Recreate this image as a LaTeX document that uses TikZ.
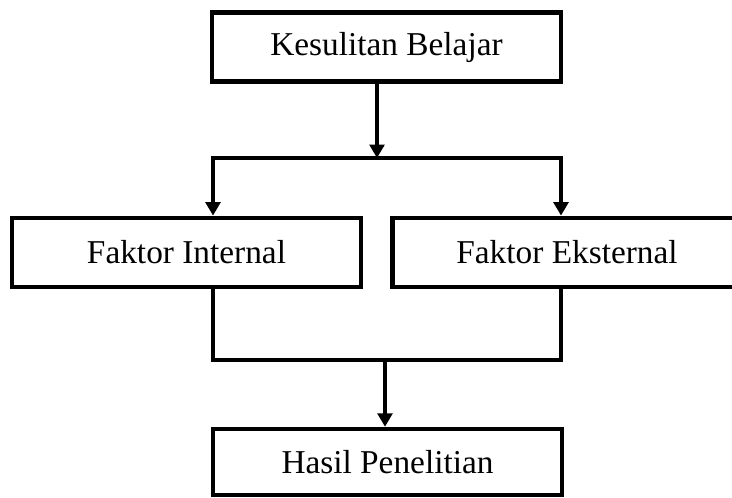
\documentclass[tikz,border=0pt]{standalone}
\usepackage{fontspec}
\setmainfont{Liberation Serif}
\usetikzlibrary{arrows.meta}
\tikzset{
    kotak/.style={draw, line width=3.4pt, minimum width=262pt, minimum height=52pt, inner sep=0pt, font=\fontsize{25}{30}\selectfont},
    garis/.style={line width=3.4pt},
    panah/.style={garis, -{Triangle[length=10pt,width=11pt]}},
    panahdua/.style={garis, {Triangle[length=10pt,width=11pt]}-{Triangle[length=10pt,width=11pt]}}
}
\begin{document}
\begin{tikzpicture}[x=0.75pt,y=-0.75pt]
        \clip (0,0) rectangle (732,498);
        \node[kotak] (kesulitan) at (386.5,47) {Kesulitan Belajar};
        \node[kotak] (internal) at (186.5,252.5) {Faktor Internal};
        \node[kotak] (eksternal) at (567,252.5) {Faktor Eksternal};
        \node[kotak, minimum height=49.5pt] (hasil) at (387.5,462) {Hasil Penelitian};
        \coordinate (cabang) at (377,158);
        \coordinate (kiri) at (213,158);
        \coordinate (kanan) at (561,158);
        \coordinate (gabung) at (385,360);
        \draw[panah] (kesulitan.south -| cabang) -- (cabang);
        \draw[panahdua] (internal.north -| kiri) -- (kiri) -- (kanan) -- (eksternal.north -| kanan);
        \draw[garis] (internal.south -| kiri) |- (gabung) -| (eksternal.south -| kanan);
        \draw[panah] (gabung) -- (hasil.north -| gabung);
    \end{tikzpicture}
\end{document}
